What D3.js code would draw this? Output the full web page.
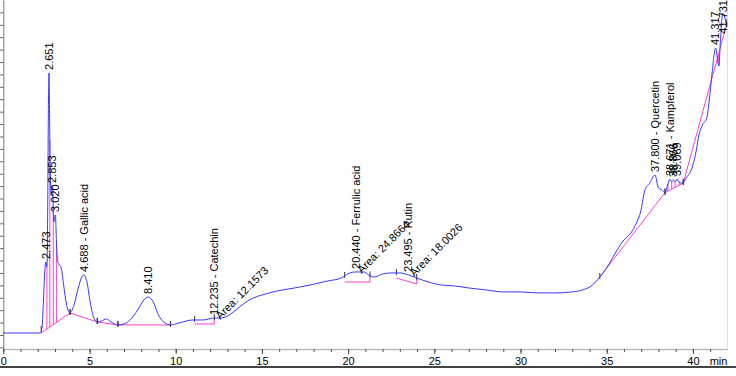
<!DOCTYPE html>
<html>
<head>
<meta charset="utf-8">
<script src="https://cdn.jsdelivr.net/npm/d3@7"></script>
<style>
  body { margin: 0; background: #fff; }
  svg { display: block; font-family: "Liberation Sans", Arial, sans-serif; }
</style>
</head>
<body>
<svg id="chart" width="736" height="376"></svg>
<script>
// chromatogram: [retention time (min), signal (mAU)]
const chromatogram = [
  [0, 1.6], [2.15, 1.6], [2.25, 6.4], [2.33, 28.2], [2.42, 54.0], [2.473, 58.8], [2.53, 54.8],
  [2.58, 108.8], [2.62, 189.4], [2.651, 211.2], [2.68, 181.4], [2.72, 133.0], [2.78, 112.8],
  [2.853, 120.1], [2.93, 91.1], [3.02, 96.7], [3.08, 76.6], [3.14, 60.5], [3.22, 57.2],
  [3.36, 54.0], [3.5, 40.3], [3.65, 25.8], [3.87, 17.7], [4.1, 24.2], [4.35, 37.9],
  [4.55, 46.7], [4.688, 48.4], [4.85, 42.7], [5.05, 25.8], [5.25, 13.7], [5.45, 10.5],
  [5.7, 11.3], [5.97, 12.9], [6.25, 10.5], [6.65, 8.1], [7.0, 8.9], [7.4, 12.9], [7.8, 20.2],
  [8.15, 28.2], [8.41, 30.6], [8.7, 26.6], [9.0, 16.1], [9.3, 10.5], [9.7, 8.1], [10.2, 9.7],
  [11.0, 12.1], [11.6, 12.1], [12.235, 13.7], [12.6, 13.7], [13.0, 15.3], [13.5, 20.2],
  [14.0, 25.8], [14.5, 29.8], [15.0, 32.2], [15.9, 35.5], [16.9, 37.9], [17.8, 40.3],
  [18.8, 43.5], [19.6, 45.9], [20.1, 50.0], [20.44, 50.8], [20.9, 50.8], [21.2, 48.4],
  [21.5, 46.7], [22.0, 49.2], [22.5, 50.0], [23.0, 50.0], [23.495, 48.4], [24.3, 44.3],
  [25.4, 40.3], [26.2, 39.5], [27.0, 37.9], [28.0, 36.3], [29.0, 34.7], [30.0, 34.7],
  [31.0, 33.9], [32.0, 33.9], [33.0, 34.7], [33.6, 36.3], [34.1, 39.5], [34.6, 46.7],
  [35.1, 56.4], [35.6, 68.5], [36.0, 76.6], [36.4, 82.2], [36.75, 91.1], [36.95, 98.3],
  [37.22, 116.9], [37.5, 122.5], [37.8, 129.0], [38.0, 118.5], [38.2, 116.9], [38.38, 114.7],
  [38.55, 121.7], [38.671, 125.7], [38.77, 123.3], [38.87, 124.9], [38.97, 123.3],
  [39.069, 125.7], [39.25, 122.5], [39.44, 122.5], [39.6, 126.5], [39.85, 131.4],
  [40.0, 137.0], [40.2, 149.1], [40.35, 161.2], [40.55, 169.3], [40.8, 174.9], [40.95, 189.4],
  [41.1, 209.6], [41.317, 231.3], [41.5, 216.8], [41.6, 237.8], [41.731, 259.5],
  [41.8, 257.9], [41.95, 249.9]
]

const peakTimes = [2.473, 2.651, 2.853, 3.020, 4.688, 8.410, 12.235, 20.440, 23.495,
  37.800, 38.671, 38.866, 39.069, 41.317, 41.731]
const peakNames = ['', '', '', '', 'Gallic acid', '', 'Catechin', 'Ferrulic acid', 'Rutin',
  'Quercetin', 'Kampferol', '', '', '', '']
const areaPeaks = [12.235, 20.440, 23.495]
const areaValues = ['12.1573', '24.8664', '18.0026']

// integration baselines: [start time, start signal, end time, end signal]
const baselines = [
  [2.20, 1.6, 3.87, 17.7], [3.87, 17.7, 5.45, 10.5], [5.45, 10.5, 6.65, 8.1],
  [6.65, 8.1, 9.7, 8.1], [11.1, 8.9, 12.24, 8.9], [19.8, 42.7, 21.27, 42.7],
  [22.8, 45.9, 23.98, 41.1], [34.6, 46.7, 38.38, 114.7], [38.38, 114.7, 39.44, 122.5],
  [39.44, 122.5, 41.95, 249.9]
]
const dropTimes = [2.53, 2.70, 2.90, 3.08, 38.55, 38.77, 38.97, 39.2, 41.5]

const xMajor = [0, 5, 10, 15, 20, 25, 30, 35, 40]
const xMinor = d3.range(0, 42)

const blue = '#3838ff'
const pink = '#ff40cc'

const svg = d3.select('#chart')
const x = d3.scaleLinear().domain([0, 42]).range([3.3, 727.4])
const y = d3.scaleLinear().domain([-11.3, 270]).range([349, 0])

const bis = d3.bisector(d => d[0]).left
function signalAt(t) {
  const i = Math.max(1, Math.min(chromatogram.length - 1, bis(chromatogram, t)))
  const a = chromatogram[i - 1], b = chromatogram[i]
  return a[1] + (b[1] - a[1]) * (t - a[0]) / (b[0] - a[0])
}
function baseAt(t) {
  const s = baselines.find(b => t >= b[0] && t <= b[2])
  return s[1] + (s[3] - s[1]) * (t - s[0]) / (s[2] - s[0])
}

// frame
svg.append('line').attr('x1', 0).attr('x2', 736).attr('y1', 367).attr('y2', 367)
  .attr('stroke', '#444').attr('stroke-width', 2)
svg.append('line').attr('x1', x(42)).attr('x2', x(42)).attr('y1', 0).attr('y2', 349)
  .attr('stroke', '#ddd')

// y axis, ticks only
const yAxis = svg.append('g').attr('transform', `translate(${x(0)},0)`)
  .call(d3.axisLeft(y).tickValues(d3.range(-10, 270, 10)).tickSize(3).tickSizeOuter(0).tickFormat(''))
yAxis.select('.domain').attr('stroke', '#777')
yAxis.selectAll('.tick line').attr('stroke', '#555')

// x axis
const xMin = svg.append('g').attr('transform', 'translate(0,349)')
  .call(d3.axisBottom(x).tickValues(xMinor).tickSize(3).tickSizeOuter(0).tickFormat(''))
xMin.select('.domain').attr('stroke', '#bbb').attr('stroke-width', 1.5)
xMin.selectAll('.tick line').attr('stroke', '#555')
const xMaj = svg.append('g').attr('transform', 'translate(0,349)')
  .call(d3.axisBottom(x).tickValues(xMajor).tickSize(5).tickPadding(3).tickSizeOuter(0))
xMaj.select('.domain').remove()
xMaj.selectAll('.tick line').attr('stroke', '#444')
xMaj.selectAll('text').attr('font-size', 11).attr('fill', '#000')
  .style('font-family', '"Liberation Sans", Arial, sans-serif')
svg.append('text').attr('x', x(42)).attr('y', 364.5).attr('text-anchor', 'end')
  .attr('font-size', 11).text('min')

// baselines
const g = svg.append('g')
g.selectAll('line.base').data(baselines).join('line').attr('class', 'base')
  .attr('x1', d => x(d[0])).attr('y1', d => y(d[1]))
  .attr('x2', d => x(d[2])).attr('y2', d => y(d[3]))
  .attr('stroke', pink)
g.selectAll('line.end').data(baselines).join('line').attr('class', 'end')
  .attr('x1', d => x(d[2])).attr('x2', d => x(d[2]))
  .attr('y1', d => y(d[3])).attr('y2', d => y(signalAt(d[2])))
  .attr('stroke', pink)
g.selectAll('line.drop').data(dropTimes).join('line').attr('class', 'drop')
  .attr('x1', d => x(d)).attr('x2', d => x(d))
  .attr('y1', d => y(baseAt(d))).attr('y2', d => y(signalAt(d)))
  .attr('stroke', pink)
const ends = baselines.flatMap(d => [d[0], d[2]])
g.selectAll('line.mark').data(ends).join('line').attr('class', 'mark')
  .attr('x1', d => x(d)).attr('x2', d => x(d))
  .attr('y1', d => y(signalAt(d)) - 4).attr('y2', d => y(signalAt(d)) + 2)
  .attr('stroke', '#333')

// signal
svg.append('path').datum(chromatogram)
  .attr('d', d3.line().x(d => x(d[0])).y(d => y(d[1])).curve(d3.curveMonotoneX))
  .attr('fill', 'none').attr('stroke', blue).attr('stroke-width', 1)

// peak labels
svg.append('g').selectAll('text').data(peakTimes).join('text')
  .attr('font-size', 11).attr('dy', '0.35em')
  .text((t, i) => peakNames[i] ? `${t.toFixed(3)} - ${peakNames[i]}` : t.toFixed(3))
  .attr('transform', function (t) {
    const len = this.getComputedTextLength()
    const yy = Math.max(y(signalAt(t)) - 3, len)
    return `translate(${x(t)},${yy}) rotate(-90)`
  })

// area labels
svg.append('g').selectAll('text').data(areaPeaks).join('text')
  .attr('font-size', 11)
  .attr('transform', t => `translate(${x(t) + 6},${y(signalAt(t)) + 2}) rotate(-45)`)
  .text((t, i) => `Area: ${areaValues[i]}`)
</script>
</body>
</html>
